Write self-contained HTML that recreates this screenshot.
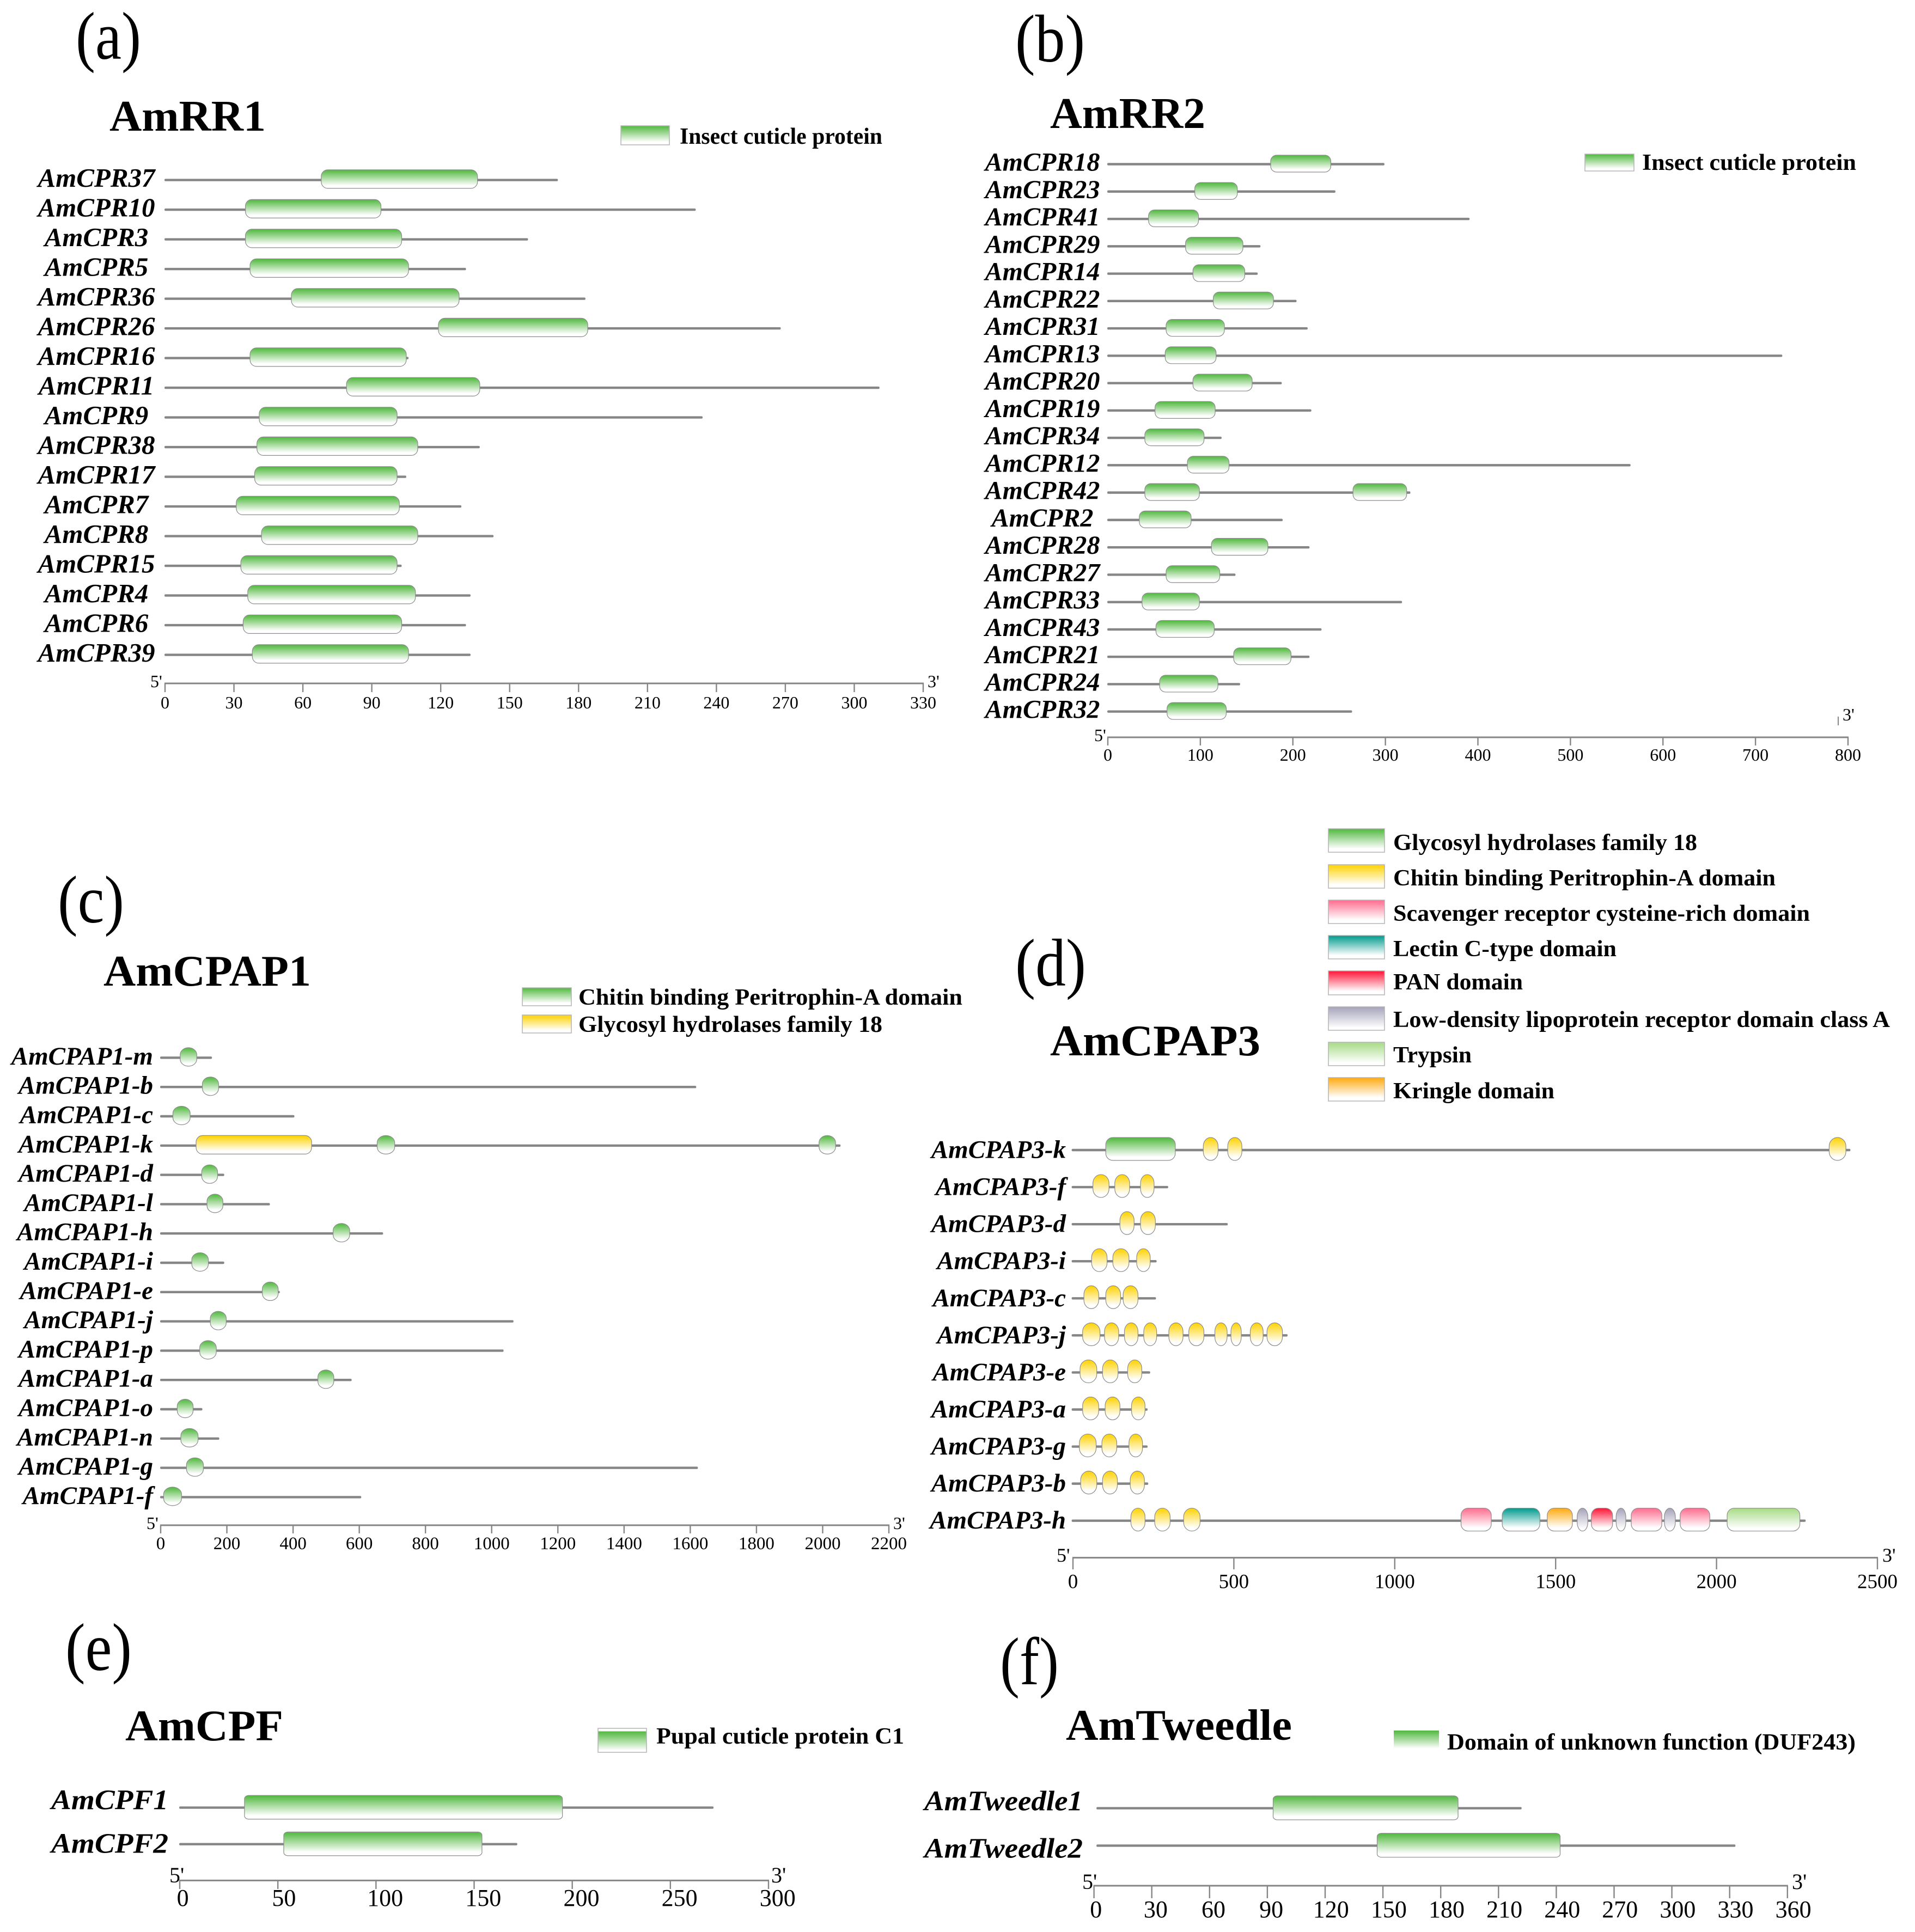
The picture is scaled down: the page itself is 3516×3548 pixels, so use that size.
<!DOCTYPE html>
<html lang="en">
<head>
<meta charset="utf-8">
<title>Cuticle protein domain architecture</title>
<style>
html,body{margin:0;padding:0;background:#fff;width:3516px;height:3548px;overflow:hidden}
svg{display:block}
text{font-family:"Liberation Serif","Times New Roman",serif;fill:#000}
.letter{font-weight:400;font-size:108px}
.title{font-weight:700;font-size:81px}
.leg{font-weight:700;font-size:42px}
.sw{stroke:#b4b4b4;stroke-width:1.5}
</style>
</head>
<body>
<svg id="figure" xmlns="http://www.w3.org/2000/svg" width="3516" height="3548" viewBox="0 0 3516 3548">
<defs>
<linearGradient id="grad-G" x1="0" y1="0" x2="0" y2="1"><stop offset="0" stop-color="#50b83e"/><stop offset=".85" stop-color="#fff"/><stop offset="1" stop-color="#fff"/></linearGradient>
<linearGradient id="grad-Y" x1="0" y1="0" x2="0" y2="1"><stop offset="0" stop-color="#ffd200"/><stop offset=".85" stop-color="#fff"/><stop offset="1" stop-color="#fff"/></linearGradient>
<linearGradient id="grad-P" x1="0" y1="0" x2="0" y2="1"><stop offset="0" stop-color="#ff6c8e"/><stop offset=".85" stop-color="#fff"/><stop offset="1" stop-color="#fff"/></linearGradient>
<linearGradient id="grad-T" x1="0" y1="0" x2="0" y2="1"><stop offset="0" stop-color="#009a8e"/><stop offset=".85" stop-color="#fff"/><stop offset="1" stop-color="#fff"/></linearGradient>
<linearGradient id="grad-R" x1="0" y1="0" x2="0" y2="1"><stop offset="0" stop-color="#ff1436"/><stop offset=".85" stop-color="#fff"/><stop offset="1" stop-color="#fff"/></linearGradient>
<linearGradient id="grad-L" x1="0" y1="0" x2="0" y2="1"><stop offset="0" stop-color="#a5a3ba"/><stop offset=".9" stop-color="#fff"/><stop offset="1" stop-color="#fff"/></linearGradient>
<linearGradient id="grad-Z" x1="0" y1="0" x2="0" y2="1"><stop offset="0" stop-color="#a6db85"/><stop offset=".88" stop-color="#fff"/><stop offset="1" stop-color="#fff"/></linearGradient>
<linearGradient id="grad-K" x1="0" y1="0" x2="0" y2="1"><stop offset="0" stop-color="#ffaa10"/><stop offset=".85" stop-color="#fff"/><stop offset="1" stop-color="#fff"/></linearGradient>
<linearGradient id="grad-E" x1="0" y1="0" x2="0" y2="1"><stop offset="0" stop-color="#fff"/><stop offset=".12" stop-color="#fff"/><stop offset=".12" stop-color="#50b83e"/><stop offset=".92" stop-color="#fff"/><stop offset="1" stop-color="#fff"/></linearGradient>
</defs>

<g>
<text class="letter" transform="translate(139,108) scale(1,1.15)" textLength="120" lengthAdjust="spacingAndGlyphs">(a)</text>
<text class="letter" transform="translate(1864,113) scale(1,1.15)" textLength="128" lengthAdjust="spacingAndGlyphs">(b)</text>
<text class="letter" transform="translate(106,1694) scale(1,1.15)" textLength="122" lengthAdjust="spacingAndGlyphs">(c)</text>
<text class="letter" transform="translate(1864,1810) scale(1,1.15)" textLength="130" lengthAdjust="spacingAndGlyphs">(d)</text>
<text class="letter" transform="translate(120,3067) scale(1,1.15)" textLength="122" lengthAdjust="spacingAndGlyphs">(e)</text>
<text class="letter" transform="translate(1836,3093) scale(1,1.15)" textLength="108" lengthAdjust="spacingAndGlyphs">(f)</text>
</g>

<g>
<text class="title" x="201" y="240" textLength="287" lengthAdjust="spacingAndGlyphs">AmRR1</text>
<text class="title" x="1928" y="235" textLength="285" lengthAdjust="spacingAndGlyphs">AmRR2</text>
<text class="title" x="190" y="1810" textLength="381" lengthAdjust="spacingAndGlyphs">AmCPAP1</text>
<text class="title" x="1928" y="1938" textLength="386" lengthAdjust="spacingAndGlyphs">AmCPAP3</text>
<text class="title" x="230" y="3196" textLength="290" lengthAdjust="spacingAndGlyphs">AmCPF</text>
<text class="title" x="1957" y="3195" textLength="415" lengthAdjust="spacingAndGlyphs">AmTweedle</text>
</g>

<g>
<rect class="sw" x="1140" y="231" width="89" height="35" fill="url(#grad-G)"/>
<text class="leg" x="1248" y="264" textLength="372" lengthAdjust="spacingAndGlyphs">Insect cuticle protein</text>
</g>
<g>
<rect class="sw" x="2910" y="283" width="90" height="31" fill="url(#grad-G)"/>
<text class="leg" x="3015" y="312" textLength="393" lengthAdjust="spacingAndGlyphs">Insect cuticle protein</text>
</g>
<g>
<rect class="sw" x="959" y="1814" width="90" height="33" fill="url(#grad-G)"/>
<text class="leg" x="1062" y="1845" textLength="705" lengthAdjust="spacingAndGlyphs">Chitin binding Peritrophin-A domain</text>
<rect class="sw" x="959" y="1864" width="90" height="33" fill="url(#grad-Y)"/>
<text class="leg" x="1062" y="1895" textLength="558" lengthAdjust="spacingAndGlyphs">Glycosyl hydrolases family 18</text>
</g>
<g>
<rect class="sw" x="2439" y="1522" width="103" height="43" fill="url(#grad-G)"/>
<text class="leg" x="2558" y="1561" textLength="558" lengthAdjust="spacingAndGlyphs">Glycosyl hydrolases family 18</text>
<rect class="sw" x="2439" y="1588" width="103" height="43" fill="url(#grad-Y)"/>
<text class="leg" x="2558" y="1626" textLength="702" lengthAdjust="spacingAndGlyphs">Chitin binding Peritrophin-A domain</text>
<rect class="sw" x="2439" y="1653" width="103" height="43" fill="url(#grad-P)"/>
<text class="leg" x="2558" y="1691" textLength="765" lengthAdjust="spacingAndGlyphs">Scavenger receptor cysteine-rich domain</text>
<rect class="sw" x="2439" y="1718" width="103" height="43" fill="url(#grad-T)"/>
<text class="leg" x="2558" y="1756" textLength="410" lengthAdjust="spacingAndGlyphs">Lectin C-type domain</text>
<rect class="sw" x="2439" y="1783" width="103" height="44" fill="url(#grad-R)"/>
<text class="leg" x="2558" y="1817" textLength="238" lengthAdjust="spacingAndGlyphs">PAN domain</text>
<rect class="sw" x="2439" y="1849" width="103" height="43" fill="url(#grad-L)"/>
<text class="leg" x="2558" y="1886" textLength="912" lengthAdjust="spacingAndGlyphs">Low-density lipoprotein receptor domain class A</text>
<rect class="sw" x="2439" y="1914" width="103" height="43" fill="url(#grad-Z)"/>
<text class="leg" x="2558" y="1951" textLength="144" lengthAdjust="spacingAndGlyphs">Trypsin</text>
<rect class="sw" x="2439" y="1979" width="103" height="43" fill="url(#grad-K)"/>
<text class="leg" x="2558" y="2017" textLength="296" lengthAdjust="spacingAndGlyphs">Kringle domain</text>
</g>
<g>
<rect class="sw" x="1098" y="3174" width="89" height="44" fill="url(#grad-E)"/>
<text class="leg" x="1205" y="3202" textLength="455" lengthAdjust="spacingAndGlyphs">Pupal cuticle protein C1</text>
</g>
<g>
<rect x="2559" y="3178" width="83" height="39" fill="url(#grad-G)"/>
<text class="leg" x="2657" y="3213" textLength="750" lengthAdjust="spacingAndGlyphs">Domain of unknown function (DUF243)</text>
</g>
<g id="charts"></g>
</svg>

<script>
/* Panel (a) AmRR1: lengths and domains in amino acids */
const rr1Genes = ['AmCPR37','AmCPR10','AmCPR3','AmCPR5','AmCPR36','AmCPR26','AmCPR16','AmCPR11','AmCPR9','AmCPR38','AmCPR17','AmCPR7','AmCPR8','AmCPR15','AmCPR4','AmCPR6','AmCPR39'];
const rr1Lengths = [171,231,158,131,183,268,106,311,234,137,105,129,143,103,133,131,133];
const rr1Domains = [
 [[68,136,'G']],[[35,94,'G']],[[35,103,'G']],[[37,106,'G']],[[55,128,'G']],[[119,184,'G']],[[37,105,'G']],[[79,137,'G']],[[41,101,'G']],
 [[40,110,'G']],[[39,101,'G']],[[31,102,'G']],[[42,110,'G']],[[33,101,'G']],[[36,109,'G']],[[34,103,'G']],[[38,106,'G']]
];
const rr1Ticks = [0,30,60,90,120,150,180,210,240,270,300,330];

/* Panel (b) AmRR2 */
const rr2Genes = ['AmCPR18','AmCPR23','AmCPR41','AmCPR29','AmCPR14','AmCPR22','AmCPR31','AmCPR13','AmCPR20','AmCPR19','AmCPR34','AmCPR12','AmCPR42','AmCPR2','AmCPR28','AmCPR27','AmCPR33','AmCPR43','AmCPR21','AmCPR24','AmCPR32'];
const rr2Lengths = [299,246,391,165,162,204,216,729,188,220,123,565,327,189,218,138,318,231,218,143,264];
const rr2Domains = [
 [[176,241,'G']],[[94,140,'G']],[[44,98,'G']],[[84,146,'G']],[[92,148,'G']],[[114,179,'G']],[[63,126,'G']],[[62,117,'G']],[[92,156,'G']],[[51,116,'G']],[[40,104,'G']],
 [[86,131,'G']],[[40,99,'G'],[265,323,'G']],[[34,90,'G']],[[112,173,'G']],[[63,121,'G']],[[37,99,'G']],[[52,115,'G']],[[136,198,'G']],[[56,119,'G']],[[64,128,'G']]
];
const rr2Ticks = [0,100,200,300,400,500,600,700,800];

/* Panel (c) AmCPAP1 */
const cpap1Genes = ['AmCPAP1-m','AmCPAP1-b','AmCPAP1-c','AmCPAP1-k','AmCPAP1-d','AmCPAP1-l','AmCPAP1-h','AmCPAP1-i','AmCPAP1-e','AmCPAP1-j','AmCPAP1-p','AmCPAP1-a','AmCPAP1-o','AmCPAP1-n','AmCPAP1-g','AmCPAP1-f'];
const cpap1Lengths = [155,1618,404,2054,192,330,672,192,360,1066,1036,577,126,177,1623,606];
const cpap1Domains = [
 [[59,109,'G']],[[126,175,'G']],[[37,89,'G']],[[107,456,'Y'],[654,707,'G'],[1989,2039,'G']],[[124,172,'G']],[[140,188,'G']],[[521,571,'G']],[[94,144,'G']],
 [[307,355,'G']],[[150,198,'G']],[[118,168,'G']],[[475,523,'G']],[[50,98,'G']],[[61,113,'G']],[[78,129,'G']],[[9,63,'G']]
];
const cpap1Ticks = [0,200,400,600,800,1000,1200,1400,1600,1800,2000,2200];

/* Panel (d) AmCPAP3 */
const cpap3Genes = ['AmCPAP3-k','AmCPAP3-f','AmCPAP3-d','AmCPAP3-i','AmCPAP3-c','AmCPAP3-j','AmCPAP3-e','AmCPAP3-a','AmCPAP3-g','AmCPAP3-b','AmCPAP3-h'];
const cpap3Lengths = [2416,296,481,260,258,667,240,232,232,234,2277];
const cpap3Domains = [
 [[102,318,'G'],[405,451,'Y'],[481,525,'Y'],[2350,2402,'Y']],
 [[62,112,'Y'],[130,176,'Y'],[210,252,'Y']],
 [[146,190,'Y'],[210,256,'Y']],
 [[58,106,'Y'],[124,174,'Y'],[198,240,'Y']],
 [[34,80,'Y'],[102,148,'Y'],[156,202,'Y']],
 [[30,84,'Y'],[98,142,'Y'],[160,202,'Y'],[220,260,'Y'],[298,342,'Y'],[360,407,'Y'],[441,479,'Y'],[491,523,'Y'],[551,591,'Y'],[603,651,'Y']],
 [[22,74,'Y'],[92,140,'Y'],[170,214,'Y']],
 [[30,80,'Y'],[100,146,'Y'],[182,224,'Y']],
 [[20,72,'Y'],[90,136,'Y'],[174,216,'Y']],
 [[24,74,'Y'],[92,138,'Y'],[178,222,'Y']],
 [[180,224,'Y'],[254,302,'Y'],[344,395,'Y'],[1206,1300,'P'],[1334,1451,'T'],[1474,1552,'K'],[1567,1600,'L'],[1611,1677,'R'],[1688,1718,'L'],[1735,1830,'P'],[1838,1872,'L'],[1887,1979,'P'],[2033,2259,'Z']]
];
const cpap3Ticks = [0,500,1000,1500,2000,2500];

/* Panel (e) AmCPF */
const cpfGenes = ['AmCPF1','AmCPF2'];
const cpfLengths = [272,172];
const cpfDomains = [[[33,195,'G']],[[53,154,'G']]];
const cpfTicks = [0,50,100,150,200,250,300];

/* Panel (f) AmTweedle */
const tweedleGenes = ['AmTweedle1','AmTweedle2'];
const tweedleLengths = [222,333];
const tweedleDomains = [[[93,189,'G']],[[147,242,'G']]];
const tweedleTicks = [0,30,60,90,120,150,180,210,240,270,300,330,360];

const SVGNS = 'http://www.w3.org/2000/svg';
function svgEl(tag, attrs, parent, txt) {
  const el = document.createElementNS(SVGNS, tag);
  for (const k in attrs) el.setAttribute(k, attrs[k]);
  if (txt !== undefined) el.textContent = txt;
  parent.appendChild(el);
  return el;
}
function linearScale(d0, d1, r0, r1) {
  return v => r0 + (v - d0) * (r1 - r0) / (d1 - d0);
}

const layouts = [
 {key:'amrr1', genes:rr1Genes, lengths:rr1Lengths, domains:rr1Domains, ticks:rr1Ticks, x0:303, x1:1695, rowY:330.6, step:54.5, startOff:-1, h:34, dy:-1.7, rx:12, ry:12, ovalMax:0, font:49, anchor:'middle', labelX:177, labelDy:12.5, axisY:1255, tickEnd:1271, tickFont:32, tickBase:1301, perDigit:0, capFont:32, cap5:[276,1262], cap3:[1703,1262]},
 {key:'amrr2', genes:rr2Genes, lengths:rr2Lengths, domains:rr2Domains, ticks:rr2Ticks, x0:2034, x1:3393, rowY:301.5, step:50.26, startOff:-1, h:31, dy:-1, rx:11, ry:11, ovalMax:0, font:48, anchor:'middle', labelX:1914, labelDy:12, axisY:1354, tickEnd:1369, tickFont:32, tickBase:1397, perDigit:0, capFont:32, cap5:[2009,1361], cap3:[3383,1323], capTick:[3375,1316,1332]},
 {key:'amcpap1', genes:cpap1Genes, lengths:cpap1Lengths, domains:cpap1Domains, ticks:cpap1Ticks, x0:295, x1:1632, rowY:1942.4, step:53.8, startOff:-1, h:34, dy:-1.4, rx:12, ry:12, ovalMax:34, font:47, anchor:'end', labelX:281, labelDy:12.5, axisY:2801, tickEnd:2816, tickFont:33, tickBase:2845, perDigit:0, capFont:32, cap5:[269,2808], cap3:[1640,2808]},
 {key:'amcpap3', genes:cpap3Genes, lengths:cpap3Lengths, domains:cpap3Domains, ticks:cpap3Ticks, x0:1970, x1:3447, rowY:2112, step:68.07, startOff:-2.4, h:42, dy:-2, rx:13, ry:13, ovalMax:36, font:47, anchor:'end', labelX:1957, labelDy:14.5, axisY:2860.6, tickEnd:2882, tickFont:37, tickBase:2916.5, perDigit:0, capFont:36, cap5:[1940,2868], cap3:[3456,2868]},
 {key:'amcpf', genes:cpfGenes, lengths:cpfLengths, domains:cpfDomains, ticks:cpfTicks, x0:330, x1:1411, rowY:3319.6, step:67.1, startOff:-1, h:43.5, dy:-0.6, rx:8, ry:6, ovalMax:0, font:52, anchor:'start', labelX:94, labelDys:[3,16], labelLen:215, axisY:3453.4, tickEnd:3469, tickFont:44, tickBase:3500, perDigit:5.6, capFont:40, cap5:[311,3457], cap3:[1416,3457]},
 {key:'amtweedle', genes:tweedleGenes, lengths:tweedleLengths, domains:tweedleDomains, ticks:tweedleTicks, x0:2008.6, x1:3281.8, rowY:3320.7, step:68.7, startOff:4.5, h:44, dy:-0.7, rx:8, ry:6, ovalMax:0, font:52, anchor:'start', labelX:1697, labelDys:[4,22], labelLen:291, axisY:3463, tickEnd:3486, tickFont:44, tickBase:3521, perDigit:3.6, capFont:40, cap5:[1987,3469], cap3:[3290,3469]}
];

const root = document.getElementById('charts');
const GRAY = '#868686';

layouts.forEach(p => {
  const tickMax = p.ticks[p.ticks.length - 1];
  const x = linearScale(0, tickMax, p.x0, p.x1);
  const rowY = i => p.rowY + p.step * i;

  const panel = svgEl('g', {}, root);
  
  

  p.genes.forEach((gene, i) => {
    const y = rowY(i);
    const row = svgEl('g', {}, panel);
    
    

    const lab = svgEl('text', {
      x: p.labelX,
      y: y + (p.labelDys ? p.labelDys[i] : p.labelDy),
      'text-anchor': p.anchor,
      'font-size': p.font,
      'font-weight': 700,
      'font-style': 'italic'
    }, row, gene);
    if (p.labelLen) {
      lab.setAttribute('textLength', p.labelLen);
      lab.setAttribute('lengthAdjust', 'spacingAndGlyphs');
    }
    
    

    const line = svgEl('rect', {
      x: x(0) + p.startOff,
      y: y - 2.2,
      width: x(p.lengths[i]) - x(0) - p.startOff,
      height: 4.4,
      rx: 2,
      fill: GRAY
    }, row);
    
    

    p.domains[i].forEach((d, j) => {
      const dx0 = x(d[0]);
      const dx1 = x(d[1]);
      const w = dx1 - dx0;
      const narrow = w < p.ovalMax;
      const rect = svgEl('rect', {
        x: dx0,
        y: y + p.dy - p.h / 2,
        width: w,
        height: p.h,
        rx: narrow ? w / 2 : p.rx,
        ry: narrow ? p.h * 0.38 : p.ry,
        fill: 'url(#grad-' + d[2] + ')',
        stroke: '#8c8c8c',
        'stroke-width': 1.2
      }, row);
      
      
    });
  });

  const axis = svgEl('g', {}, panel);
  
  

  const base = svgEl('line', {
    x1: x(0) - 1, x2: x(tickMax) + 1, y1: p.axisY, y2: p.axisY,
    stroke: GRAY, 'stroke-width': 3
  }, axis);
  
  

  p.ticks.forEach(t => {
    const tick = svgEl('line', {
      x1: x(t), x2: x(t), y1: p.axisY, y2: p.tickEnd,
      stroke: GRAY, 'stroke-width': 2.4
    }, axis);
    
    

    const label = svgEl('text', {
      x: x(t) + String(t).length * p.perDigit,
      y: p.tickBase,
      'text-anchor': 'middle',
      'font-size': p.tickFont
    }, axis, String(t));
    
    
  });

  const five = svgEl('text', {x: p.cap5[0], y: p.cap5[1], 'font-size': p.capFont}, axis, "5'");
  
  

  const three = svgEl('text', {x: p.cap3[0], y: p.cap3[1], 'font-size': p.capFont}, axis, "3'");
  
  

  if (p.capTick) {
    const ct = svgEl('line', {
      x1: p.capTick[0], x2: p.capTick[0], y1: p.capTick[1], y2: p.capTick[2],
      stroke: GRAY, 'stroke-width': 2
    }, axis);
    
    
  }
});
</script>
</body>
</html>
